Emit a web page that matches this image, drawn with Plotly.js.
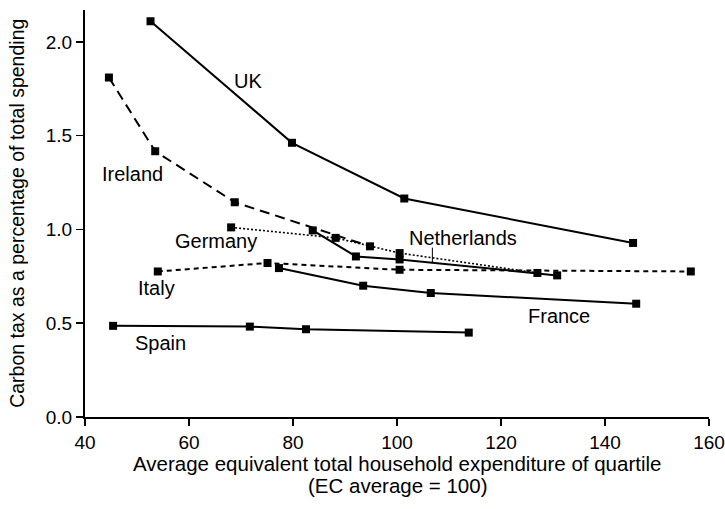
<!DOCTYPE html>
<html>
<head>
<meta charset="utf-8">
<script src="https://cdn.plot.ly/plotly-3.0.1.min.js"></script>
<style>html,body{margin:0;padding:0;background:#fff;}#chart{width:725px;height:509px;}</style>
</head>
<body>
<div id="chart"></div>
<script>
// Data
const ukX = [52.6, 79.8, 101.4, 145.4];
const ukY = [2.11, 1.462, 1.165, 0.928];
const irelandX = [44.6, 53.5, 68.8, 94.8];
const irelandY = [1.81, 1.417, 1.145, 0.91];
const germanyX = [68.1, 88.2, 100.5, 127.0];
const germanyY = [1.011, 0.955, 0.874, 0.768];
const netherlandsX = [83.8, 92.1, 100.5, 130.8];
const netherlandsY = [0.995, 0.856, 0.84, 0.755];
const italyX = [54.0, 75.1, 100.5, 156.5];
const italyY = [0.776, 0.821, 0.785, 0.776];
const franceX = [77.3, 93.5, 106.5, 146.0];
const franceY = [0.794, 0.70, 0.661, 0.604];
const spainX = [45.4, 71.7, 82.5, 113.8];
const spainY = [0.486, 0.482, 0.468, 0.450];

const countryNames = ["UK", "Ireland", "Germany", "Netherlands", "Italy", "France", "Spain"];
const labelX = [71.4, 49.1, 65.1, 112.7, 53.8, 131.1, 54.6];
const labelY = [1.79, 1.293, 0.936, 0.955, 0.687, 0.536, 0.394];

const xTicks = [40, 60, 80, 100, 120, 140, 160];
const yTicks = [0.0, 0.5, 1.0, 1.5, 2.0];

const xTitle1 = "Average equivalent total household expenditure of quartile";
const xTitle2 = "(EC average = 100)";
const yTitle = "Carbon tax as a percentage of total spending";

const FONT = "Liberation Sans, Arial, sans-serif";
const FS = 20;
const TICKFS = 19;

function series(name, x, y, dash, width) {
  return {
    type: "scatter", mode: "lines+markers", name: name, x: x, y: y,
    line: {color: "#000", width: width, dash: dash},
    marker: {symbol: "square", size: 8, color: "#000"},
    cliponaxis: false, showlegend: false
  };
}

const data = [
  series("UK", ukX, ukY, "solid", 2),
  series("Ireland", irelandX, irelandY, "10px,6px", 2),
  series("Germany", germanyX, germanyY, "2px,2px", 1.6),
  series("Netherlands", netherlandsX, netherlandsY, "solid", 2),
  series("Italy", italyX, italyY, "5px,4px", 2),
  series("France", franceX, franceY, "solid", 2),
  series("Spain", spainX, spainY, "solid", 2)
];

const plotH = 509 - 10 - 92;
const annotations = countryNames.map((n, i) => ({
  x: labelX[i], y: labelY[i], xref: "x", yref: "y", text: n,
  showarrow: false, font: {family: FONT, size: FS, color: "#000"}
}));
annotations.push(
  {x: 0.5, y: -46 / plotH, xref: "paper", yref: "paper", text: xTitle1, showarrow: false, borderpad: 0,
   xanchor: "center", yanchor: "middle", font: {family: FONT, size: 20.5, color: "#000"}},
  {x: 0.5, y: -68 / plotH, xref: "paper", yref: "paper", text: xTitle2, showarrow: false, borderpad: 0,
   xanchor: "center", yanchor: "middle", font: {family: FONT, size: 20.5, color: "#000"}},
  {x: -0.110, y: 0.5, xref: "paper", yref: "paper", text: yTitle, showarrow: false,
   textangle: -90, xanchor: "center", yanchor: "middle", font: {family: FONT, size: 19.5, color: "#000"}}
);

const layout = {
  width: 725, height: 509,
  margin: {l: 85, r: 16, t: 10, b: 92},
  paper_bgcolor: "#fff", plot_bgcolor: "#fff",
  font: {family: FONT, size: FS, color: "#000"},
  xaxis: {
    range: [40, 160], tickvals: xTicks, ticktext: xTicks.map(String),
    showline: true, linecolor: "#000", linewidth: 2,
    ticks: "outside", ticklen: 7, tickwidth: 1.5, tickcolor: "#000",
    showgrid: false, zeroline: false, ticklabeloverflow: "allow",
    tickfont: {family: FONT, size: TICKFS}
  },
  yaxis: {
    range: [0, 2.17], tickvals: yTicks, ticktext: yTicks.map(v => v.toFixed(1)),
    showline: true, linecolor: "#000", linewidth: 2,
    ticks: "outside", ticklen: 7, tickwidth: 1.5, tickcolor: "#000",
    showgrid: false, zeroline: false,
    tickfont: {family: FONT, size: TICKFS}
  },
  annotations: annotations,
  shapes: [{type: "line", xref: "x", yref: "y", x0: 106.8, x1: 106.8, y0: 0.903, y1: 0.823,
            line: {color: "#000", width: 1}}]
};

Plotly.newPlot("chart", data, layout, {displayModeBar: false, staticPlot: true});
</script>
</body>
</html>
